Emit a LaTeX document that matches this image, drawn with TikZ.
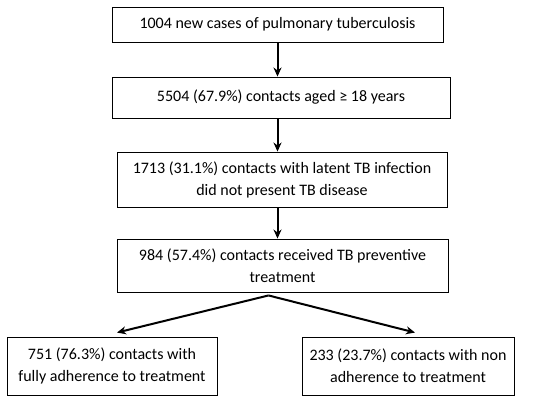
\documentclass[tikz,border=0pt]{standalone}
\usepackage{fontspec}
\setmainfont{Carlito}
\usepackage{tikz}
\usetikzlibrary{arrows.meta, positioning, calc}

\begin{document}
\begin{tikzpicture}[x=1pt, y=-1pt, >={Stealth[length=9pt,width=8pt]},
    every node/.style={font=\fontsize{16}{22}\selectfont},
    stage/.style={draw, line width=0.9pt, align=center, inner sep=0pt},
    flow/.style={->, line width=2pt}]
  \useasboundingbox (0,0) rectangle (550,399);
  % main chain
  \node[stage, minimum width=331pt, minimum height=35pt] (cases) at (277.5,24.5)
    {1004 new cases of pulmonary tuberculosis};
  \node[stage, minimum width=338pt, minimum height=41pt] (adults) at (281,97.5)
    {5504 (67.9\%) contacts aged ≥ 18 years};
  \node[stage, minimum width=330pt, minimum height=55pt] (latent) at (282,179.5)
    {1713 (31.1\%) contacts with latent TB infection\\did not present TB disease};
  \node[stage, minimum width=331pt, minimum height=53pt] (treated) at (282.5,265.5)
    {984 (57.4\%) contacts received TB preventive\\treatment};
  % outcome boxes
  \node[stage, minimum width=210pt, minimum height=58pt] (full) at (112,366)
    {751 (76.3\%) contacts with\\fully adherence to treatment};
  \node[stage, minimum width=212pt, minimum height=58pt] (nonadh) at (408,366)
    {233 (23.7\%) contacts with non\\adherence to treatment};
  \coordinate (split) at ([xshift=-14pt, yshift=-3pt]treated.south);
  \draw[flow] (cases.south) -- (cases.south |- adults.north);
  \draw[flow] (cases.south |- adults.south) -- (cases.south |- latent.north);
  \draw[flow] (cases.south |- latent.south) -- (cases.south |- treated.north);
  \draw[flow] (split) -- ([xshift=5pt, yshift=4pt]full.north);
  \draw[flow] (split) -- ([xshift=7pt, yshift=4pt]nonadh.north);
\end{tikzpicture}
\end{document}
